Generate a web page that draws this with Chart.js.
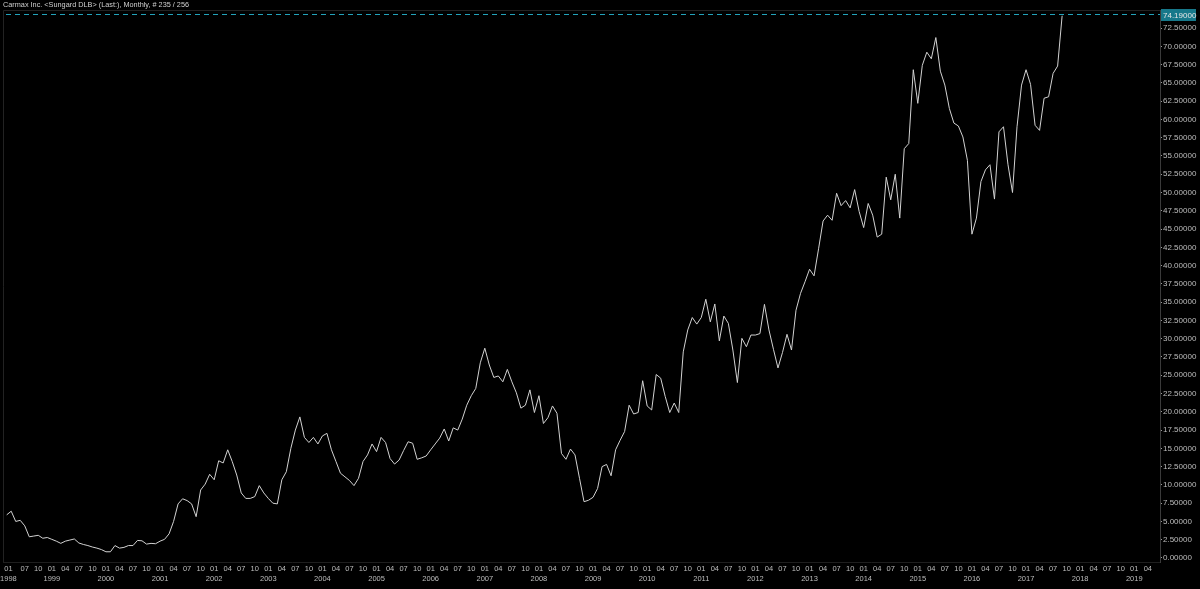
<!DOCTYPE html>
<html>
<head>
<meta charset="utf-8">
<title>Carmax Inc. monthly</title>
<script src="https://cdn.jsdelivr.net/npm/chart.js@4"></script>
<style>
  html, body { margin: 0; padding: 0; background: #000; }
  #wrap { position: relative; width: 1200px; height: 589px; }
  #title { position: absolute; left: 3px; top: 0; font: 7.3px "Liberation Sans", Arial, sans-serif; color: #cfcfcf; line-height: 10px; white-space: nowrap; }
  canvas { display: block; }
</style>
</head>
<body>
<div id="wrap">
  <canvas id="chart" width="1200" height="589"></canvas>
  <div id="title">Carmax Inc. &lt;Sungard DLB&gt; (Last:), Monthly, # 235 / 256</div>
</div>
<script>
// month index counted from Jan 1998; first close is Mar 1998
const firstMonth = 2;
const closes = [
  5.9, 6.4, 5.0, 5.15, 4.4, 2.9, 3.0, 3.1, 2.7, 2.8,
  2.55, 2.3, 2.0, 2.3, 2.45, 2.6, 2.05, 1.85, 1.7, 1.5,
  1.35, 1.15, 0.85, 0.85, 1.7, 1.35, 1.45, 1.7, 1.7, 2.4,
  2.35, 1.9, 2.0, 1.95, 2.3, 2.55, 3.3, 5.0, 7.4, 8.1,
  7.85, 7.4, 5.65, 9.3, 10.1, 11.45, 10.7, 13.3, 13.0, 14.8,
  13.2, 11.35, 8.9, 8.15, 8.15, 8.4, 9.9, 8.9, 8.15, 7.5,
  7.4, 10.7, 11.8, 15.0, 17.5, 19.3, 16.5, 15.8, 16.5, 15.6,
  16.7, 17.05, 14.8, 13.2, 11.6, 11.1, 10.6, 9.9, 10.9, 13.2,
  14.1, 15.6, 14.55, 16.5, 15.8, 13.6, 12.85, 13.4, 14.7, 15.9,
  15.7, 13.5, 13.7, 13.95, 14.8, 15.6, 16.4, 17.65, 16.0, 17.8,
  17.5, 19.0, 20.9, 22.2, 23.2, 26.7, 28.7, 26.4, 24.7, 24.9,
  24.1, 25.8, 24.1, 22.6, 20.5, 20.9, 23.0, 19.9, 22.2, 18.4,
  19.2, 20.8, 19.8, 14.3, 13.5, 14.9, 14.1, 10.9, 7.7, 7.9,
  8.3, 9.5, 12.5, 12.8, 11.25, 14.8, 16.1, 17.3, 20.9, 19.7,
  19.9, 24.25, 20.8, 20.25, 25.1, 24.6, 22.1, 19.9, 21.2, 19.9,
  28.2, 31.2, 32.9, 32.0, 32.9, 35.4, 32.3, 34.75, 29.7, 33.1,
  32.1, 28.45, 24.0, 30.05, 28.9, 30.5, 30.5, 30.7, 34.7, 31.2,
  28.55, 26.0, 28.1, 30.6, 28.45, 33.9, 36.2, 37.8, 39.5, 38.6,
  42.3, 46.1, 46.9, 46.2, 49.9, 48.2, 48.9, 47.9, 50.4, 47.4,
  45.2, 48.5, 46.9, 43.9, 44.3, 52.1, 49.0, 52.5, 46.5, 56.0,
  56.7, 66.8, 62.2, 67.4, 69.2, 68.3, 71.2, 66.6, 64.7, 61.5,
  59.5, 59.1, 57.6, 54.4, 44.3, 46.5, 51.5, 53.1, 53.8, 49.1,
  58.3, 59.0, 53.8, 50.0, 59.0, 64.7, 66.8, 64.8, 59.2, 58.5,
  62.9, 63.1, 66.3, 67.3, 74.19
];
const lastClose = 74.19;
const quarterLabels = ['01', '04', '07', '10'];
const yearLabels = ['1998', '1999', '2000', '2001', '2002', '2003', '2004', '2005', '2006', '2007', '2008',
  '2009', '2010', '2011', '2012', '2013', '2014', '2015', '2016', '2017', '2018', '2019'];
const priceTicks = [0, 2.5, 5, 7.5, 10, 12.5, 15, 17.5, 20, 22.5, 25, 27.5, 30, 32.5, 35, 37.5,
  40, 42.5, 45, 47.5, 50, 52.5, 55, 57.5, 60, 62.5, 65, 67.5, 70, 72.5];

const FONT = 'Liberation Sans';
const xTickLabels = [];

function buildMonthTicks(scale) {
  const ticks = [];
  xTickLabels.length = 0;
  yearLabels.forEach((yr, yi) => {
    quarterLabels.forEach((q, qi) => {
      let m = yi * 12 + qi * 3;
      if (yi === 0 && qi === 1) return; // would sit on top of the clamped first label
      if (m < scale.min) m = scale.min + 1.2;
      if (m > scale.max) return;
      ticks.push({ value: m });
      xTickLabels.push(qi === 0 ? [q, yr] : q);
    });
  });
  scale.ticks = ticks;
}

const lastPrice = {
  id: 'lastPrice',
  beforeDatasetsDraw(chart) {
    const { ctx, chartArea, scales } = chart;
    const y = Math.round(scales.y.getPixelForValue(lastClose)) - 1.5;
    ctx.save();
    ctx.lineWidth = 1;
    ctx.strokeStyle = '#222';
    ctx.beginPath();
    ctx.moveTo(chartArea.left + 0.5, chartArea.bottom);
    ctx.lineTo(chartArea.left + 0.5, chartArea.top + 0.5);
    ctx.lineTo(chartArea.right, chartArea.top + 0.5);
    ctx.stroke();
    ctx.setLineDash([5, 4]);
    ctx.strokeStyle = '#22a3bb';
    ctx.beginPath();
    ctx.moveTo(chartArea.left + 3, y);
    ctx.lineTo(chartArea.right, y);
    ctx.stroke();
    ctx.restore();
  },
  afterDraw(chart) {
    const { ctx, chartArea, scales } = chart;
    const y = Math.round(scales.y.getPixelForValue(lastClose)) - 1;
    ctx.save();
    ctx.fillStyle = '#17788a';
    ctx.fillRect(chartArea.right + 1, y - 6, 35, 12);
    ctx.fillStyle = '#e6e6e6';
    ctx.font = '8px "' + FONT + '"';
    ctx.textBaseline = 'middle';
    ctx.fillText(lastClose.toFixed(5), chartArea.right + 3, y + 0.5);
    ctx.restore();
  }
};

new Chart(document.getElementById('chart').getContext('2d'), {
  type: 'line',
  data: {
    datasets: [{
      label: 'Carmax Inc.',
      data: closes.map((v, i) => ({ x: firstMonth + i, y: v })),
      borderColor: '#d2d2d2',
      borderWidth: 1,
      pointRadius: 0,
      tension: 0,
      fill: false
    }]
  },
  options: {
    responsive: false,
    animation: false,
    layout: { padding: { left: 3, top: 10, right: 0, bottom: 0 } },
    plugins: { legend: { display: false }, tooltip: { enabled: false } },
    scales: {
      x: {
        type: 'linear',
        min: 1.18,
        max: 257.7,
        afterBuildTicks: buildMonthTicks,
        afterFit: (s) => { s.height = 27; },
        grid: { drawOnChartArea: false, tickLength: 1, tickColor: '#9a9a9a' },
        border: { display: true, color: '#1e1e1e' },
        ticks: {
          autoSkip: false,
          maxRotation: 0,
          padding: 0,
          color: '#bdbdbd',
          font: { family: FONT, size: 7.5, lineHeight: 1.45 },
          callback: (value, index) => xTickLabels[index]
        }
      },
      y: {
        position: 'right',
        min: -0.55,
        max: 74.97,
        afterBuildTicks: (s) => { s.ticks = priceTicks.map(v => ({ value: v })); },
        afterFit: (s) => { s.width = 40; },
        grid: { drawOnChartArea: false, tickLength: 2, tickColor: '#9a9a9a' },
        border: { display: true, color: '#3a3a3a' },
        ticks: {
          padding: 1,
          color: '#bdbdbd',
          font: { family: FONT, size: 8 },
          callback: (v) => Number(v).toFixed(5)
        }
      }
    }
  },
  plugins: [lastPrice]
});
</script>
</body>
</html>
